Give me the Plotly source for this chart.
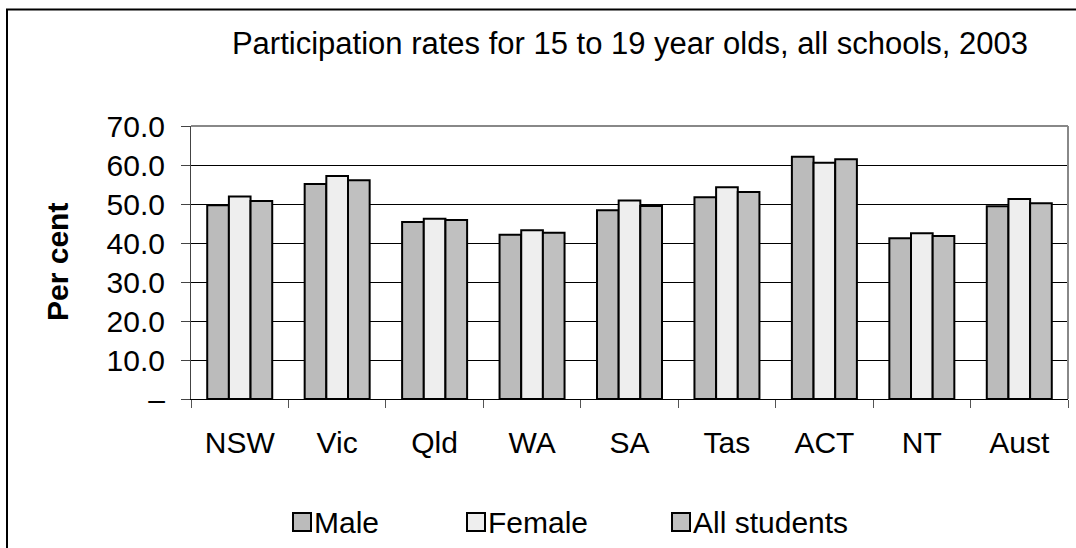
import plotly.graph_objects as go

categories = ["NSW", "Vic", "Qld", "WA", "SA", "Tas", "ACT", "NT", "Aust"]
male = [49.7, 55.1, 45.4, 42.1, 48.4, 51.7, 62.1, 41.2, 49.4]
female = [51.9, 57.2, 46.2, 43.3, 50.9, 54.3, 60.6, 42.5, 51.3]
all_students = [50.8, 56.1, 45.9, 42.6, 49.5, 53.1, 61.5, 41.8, 50.2]
series_names = ["Male", "Female", "All students"]
y_tickvals = [0, 10, 20, 30, 40, 50, 60, 70]
y_ticktext = ["\u2013", "10.0", "20.0", "30.0", "40.0", "50.0", "60.0", "70.0"]

FONT = "Liberation Sans, Arial, sans-serif"
FS = 30
colors = ["#bbbbbb", "#eeeeee", "#c0c0c0"]

fig = go.Figure()
for name, vals, col in zip(series_names, [male, female, all_students], colors):
    fig.add_trace(go.Bar(
        x=categories, y=vals, name=name, showlegend=False,
        marker=dict(color=col, line=dict(color="black", width=2)),
    ))

L, R, T, B = 191, 8, 126, 149
W, H = 1076, 548
pw, ph = W - L - R, H - T - B

def px_x(x):
    return (x - L) / pw

def px_y(y):
    return (H - B - y) / ph

shapes = [
    dict(type="line", xref="paper", yref="paper", x0=0, x1=1, y0=1, y1=1,
         line=dict(color="#888888", width=2)),
    dict(type="line", xref="paper", yref="paper", x0=1, x1=1, y0=0, y1=1,
         line=dict(color="#888888", width=2)),
    dict(type="rect", xref="paper", yref="paper",
         x0=px_x(7), x1=px_x(1090), y0=px_y(9.5), y1=px_y(570),
         line=dict(color="black", width=2), fillcolor="rgba(0,0,0,0)", layer="above"),
]
annotations = [
    dict(text="<b>Per cent</b>", xref="paper", yref="paper", x=px_x(57), y=px_y(262),
         xanchor="center", yanchor="middle", textangle=-90, showarrow=False,
         font=dict(family=FONT, size=FS, color="black")),
]

# manual legend (large symbols like the reference)
legend_x = [293, 467, 672]
for name, col, lx in zip(series_names, colors, legend_x):
    shapes.append(dict(type="rect", xref="paper", yref="paper",
                       x0=px_x(lx), x1=px_x(lx + 18), y0=px_y(531), y1=px_y(513),
                       line=dict(color="black", width=2), fillcolor=col))
    annotations.append(dict(text=name, xref="paper", yref="paper",
                            x=px_x(lx + 19), y=px_y(522), xanchor="left", yanchor="middle",
                            showarrow=False, font=dict(family=FONT, size=FS, color="black")))

fig.update_layout(
    width=W, height=H,
    margin=dict(l=L, r=R, t=T, b=B, pad=0),
    paper_bgcolor="white", plot_bgcolor="white",
    barmode="group", bargap=0.333, bargroupgap=0,
    font=dict(family=FONT, size=FS, color="black"),
    title=dict(
        text="Participation rates for 15 to 19 year olds, all schools, 2003",
        x=px_x(630), xref="paper", xanchor="center",
        y=1 - 43 / H, yanchor="middle", yref="container",
        font=dict(family=FONT, size=31, color="black"),
    ),
    showlegend=False,
    xaxis=dict(
        showline=True, linecolor="black", linewidth=1,
        ticks="outside", tickson="boundaries", ticklen=8, tickcolor="#555555",
        tickfont=dict(family=FONT, size=FS), ticklabelstandoff=17,
        showgrid=False,
    ),
    yaxis=dict(
        range=[0, 70], tickvals=y_tickvals, ticktext=y_ticktext,
        showline=True, linecolor="#444444", linewidth=1,
        ticks="outside", ticklen=9, tickcolor="#444444",
        showgrid=True, gridcolor="black", gridwidth=1,
        tickfont=dict(family=FONT, size=FS), ticklabelstandoff=10,
        zeroline=False,
    ),
    shapes=shapes,
    annotations=annotations,
)

fig.write_html("out.html")
